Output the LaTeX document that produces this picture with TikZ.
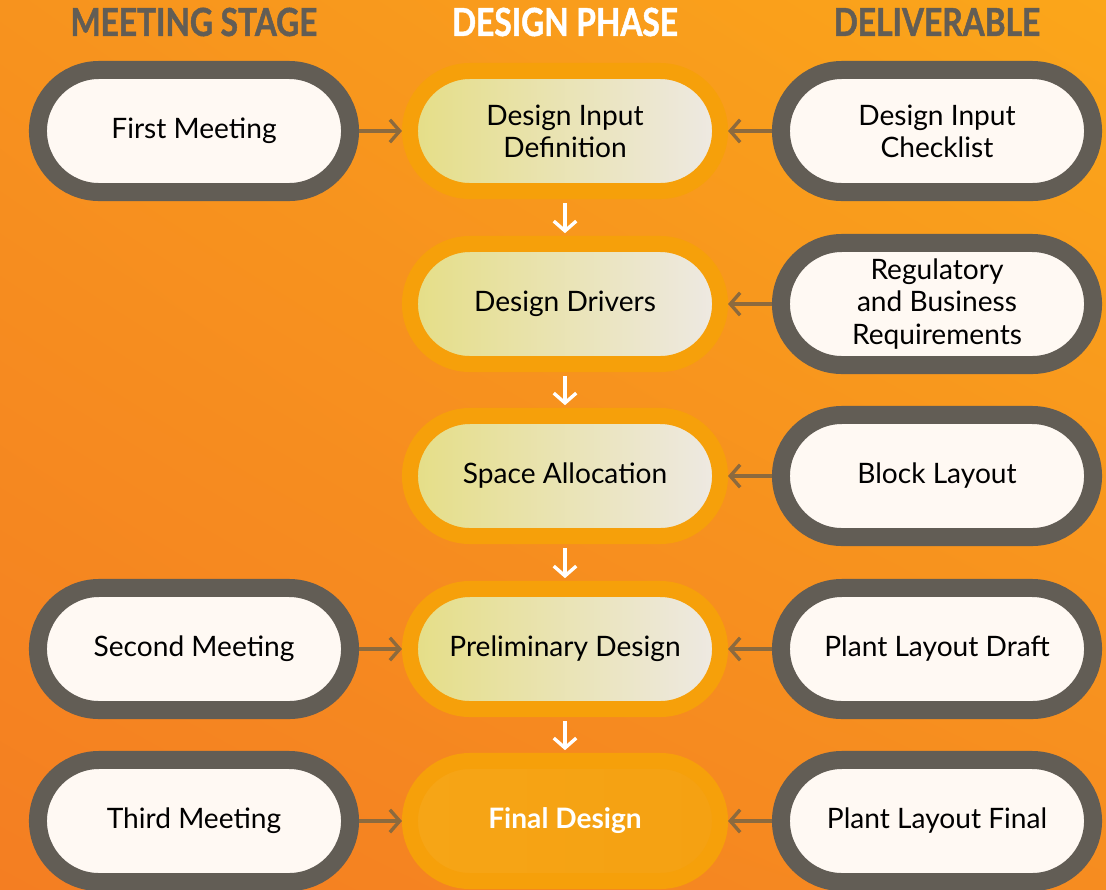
\documentclass[tikz,border=0pt]{standalone}
\usepackage{fontspec}
\setmainfont{Lato}
\newfontfamily\titulo[FakeStretch=0.82, FakeBold=1.2]{Lato}
\usetikzlibrary{arrows.meta, shadings}

\definecolor{cinza}{HTML}{625D55}
\definecolor{creme}{HTML}{FFF9F3}
\definecolor{brilho}{HTML}{F6A00A}
\definecolor{seta}{HTML}{8C6A3E}
\definecolor{amarelo}{HTML}{E5DE86}
\definecolor{claro}{HTML}{EEE9E4}
\definecolor{laranjaA}{HTML}{F47E22}
\definecolor{laranjaB}{HTML}{FBA61A}
\definecolor{laranjaC}{HTML}{F7931E}
\definecolor{laranjaD}{HTML}{F68C20}
\definecolor{finalA}{HTML}{F6A516}
\definecolor{finalB}{HTML}{F5A112}

\tikzset{
	caixa/.style={draw=cinza, fill=creme, line width=0.45cm, rounded corners=1.525cm,
		minimum width=7.8cm, minimum height=3.05cm, align=center, text=black,
		font=\fontsize{20}{22.8}\selectfont},
	fase/.style={draw=brilho, line width=0.4cm, rounded corners=1.5cm,
		left color=amarelo, right color=claro,
		minimum width=7.75cm, minimum height=3.0cm, align=center, text=black,
		font=\fontsize{20}{22.8}\selectfont},
	cabecalho/.style={font=\titulo\bfseries\fontsize{27.5}{27.5}\selectfont},
	seta lateral/.style={->, >={Straight Barb[length=7pt, width=16pt]}, line width=2.4pt, seta},
	seta fase/.style={->, >={Straight Barb[length=7pt, width=16pt]}, line width=2.4pt, white,
		shorten <=3pt, shorten >=2pt}
}

\begin{document}
\begin{tikzpicture}[x=0.025cm, y=-0.025cm]

	% Fundo

	\shade[lower left=laranjaA, upper right=laranjaB, upper left=laranjaC, lower right=laranjaD]
		(0, 0) rectangle (1106, 889);

	\useasboundingbox (0, 0) rectangle (1106, 889);

	% Titulos

	\draw node[cabecalho, text=cinza] (t1) at (194, 22) {MEETING STAGE};

	\draw node[cabecalho, text=white] (t2) at (565, 22) {DESIGN PHASE};

	\draw node[cabecalho, text=cinza] (t3) at (937, 22) {DELIVERABLE};

	% Reunioes

	\draw node[caixa] (m1) at (194, 131) {First Meeting};

	\draw node[caixa] (m2) at (194, 649) {Second Meeting};

	\draw node[caixa] (m3) at (194, 821) {Third Meeting};

	% Fases

	\draw node[fase] (d1) at (565, 131) {Design Input\\Definition};

	\draw node[fase] (d2) at (565, 304) {Design Drivers};

	\draw node[fase] (d3) at (565, 476) {Space Allocation};

	\draw node[fase] (d4) at (565, 649) {Preliminary Design};

	\draw node[fase, left color=finalA, right color=finalB, text=white,
		font=\bfseries\fontsize{20}{22.8}\selectfont] (d5) at (565, 821) {Final Design};

	% Entregas

	\draw node[caixa] (e1) at (937, 131) {Design Input\\Checklist};

	\draw node[caixa] (e2) at (937, 304) {Regulatory\\and Business\\Requirements};

	\draw node[caixa] (e3) at (937, 476) {Block Layout};

	\draw node[caixa] (e4) at (937, 649) {Plant Layout Draft};

	\draw node[caixa] (e5) at (937, 821) {Plant Layout Final};

	% Setas

	\draw[seta lateral] (m1) -- (d1);

	\draw[seta lateral] (m2) -- (d4);

	\draw[seta lateral] (m3) -- (d5);

	\draw[seta lateral] (e1) -- (d1);

	\draw[seta lateral] (e2) -- (d2);

	\draw[seta lateral] (e3) -- (d3);

	\draw[seta lateral] (e4) -- (d4);

	\draw[seta lateral] (e5) -- (d5);

	\draw[seta fase] (d1) -- (d2);

	\draw[seta fase] (d2) -- (d3);

	\draw[seta fase] (d3) -- (d4);

	\draw[seta fase] (d4) -- (d5);

\end{tikzpicture}
\end{document}
